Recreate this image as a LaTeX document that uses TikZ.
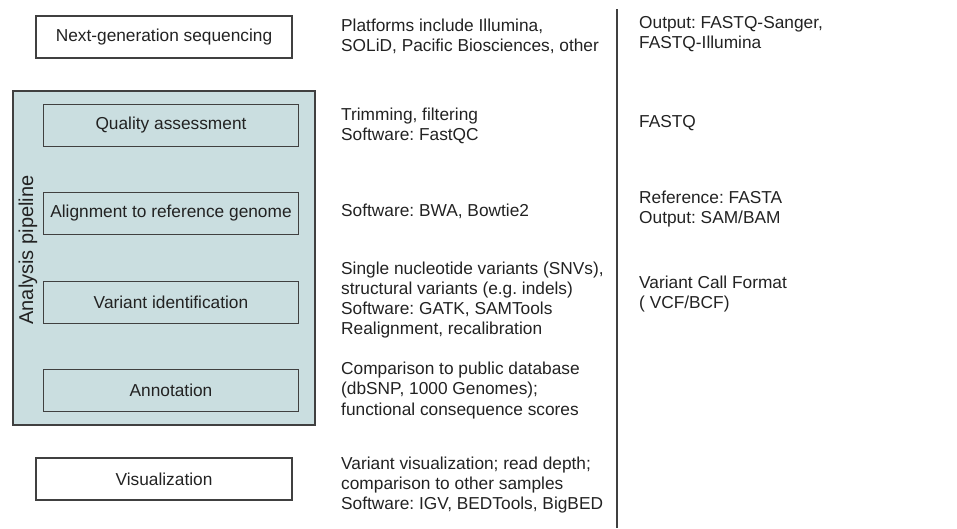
\documentclass[tikz,border=0pt]{standalone}
\usepackage{fontspec}
\setmainfont{Liberation Sans}
\definecolor{txt}{HTML}{222222}
\definecolor{edge}{HTML}{404040}
\definecolor{pipe}{HTML}{CADEE0}
\begin{document}
\frenchspacing
\begin{tikzpicture}[x=1pt,y=-1pt,
  every node/.style={font=\fontsize{17.3}{20.3}\selectfont, text=txt},
  stagebox/.style={draw=edge, line width=1.4pt, minimum height=42pt, inner sep=0pt},
  note/.style={anchor=west, align=left, inner sep=0pt}]
\useasboundingbox (0,0) rectangle (957,528);
% pipeline background
\node[draw=edge, line width=1.4pt, fill=pipe, minimum width=302pt, minimum height=334pt, inner sep=0pt] (pipe) at (164,258) {};
\node[rotate=90, inner sep=0pt, font=\fontsize{20}{24}\selectfont] (pipelabel) at (28,250) {Analysis pipeline};
% stages
\node[stagebox, minimum width=256pt] (ngs) at (164,37) {Next-generation sequencing};
\node[stagebox, minimum width=255pt] (qa) at (171,125.5) {Quality assessment};
\node[stagebox, minimum width=255pt] (aln) at (171,213.5) {Alignment to reference genome};
\node[stagebox, minimum width=255pt] (var) at (171,302.5) {Variant identification};
\node[stagebox, minimum width=255pt] (ann) at (171,390.5) {Annotation};
\node[stagebox, minimum width=256pt] (vis) at (164,479) {Visualization};
% middle column
\node[note] (n1) at (341,36.5) {Platforms include Illumina,\\SOLiD, Pacific Biosciences, other};
\node[note] (n2) at (341,126) {Trimming, filtering\\Software: FastQC};
\node[note] (n3) at (341,211) {Software: BWA, Bowtie2};
\node[note] (n4) at (341,300) {Single nucleotide variants (SNVs),\\structural variants (e.g. indels)\\Software: GATK, SAMTools\\Realignment, recalibration};
\node[note] (n5) at (341,390.5) {Comparison to public database\\(dbSNP, 1000 Genomes);\\functional consequence scores};
\node[note] (n6) at (341,485) {Variant visualization; read depth;\\comparison to other samples\\Software: IGV, BEDTools, BigBED};
% divider
\coordinate (dtop) at (617,9);
\coordinate (dbot) at (617,528);
\draw[edge, line width=1.4pt] (dtop) -- (dbot);
% right column
\node[note] (r1) at (639,34) {Output: FASTQ-Sanger,\\FASTQ-Illumina};
\node[note] (r2) at (639,123) {FASTQ};
\node[note] (r3) at (639,209) {Reference: FASTA\\Output: SAM/BAM};
\node[note] (r4) at (639,294) {Variant Call Format\\( VCF/BCF)};
\end{tikzpicture}
\end{document}
